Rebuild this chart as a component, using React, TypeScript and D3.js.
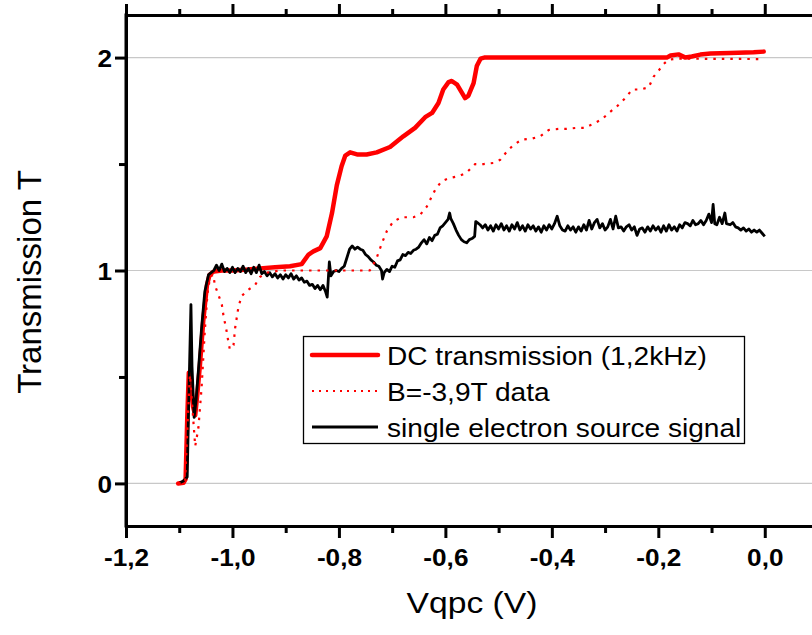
import { useEffect, useRef } from 'react'
import * as d3 from 'd3'

type Pt = [number, number]

// Vqpc (V), transmission T
const dcTransmission: Pt[] = [
  [-1.102, 0], [-1.092, 0.003], [-1.088, 0.02], [-1.085, 0.3], [-1.082, 0.52], [-1.078, 0.47],
  [-1.074, 0.36], [-1.07, 0.32], [-1.066, 0.42], [-1.061, 0.56], [-1.055, 0.76], [-1.048, 0.93],
  [-1.043, 0.98], [-1.035, 0.995], [-1.02, 1.0], [-1.0, 1.0], [-0.97, 1.005], [-0.948, 1.01],
  [-0.92, 1.015], [-0.892, 1.02], [-0.87, 1.03], [-0.857, 1.075], [-0.848, 1.09], [-0.835, 1.105],
  [-0.823, 1.16], [-0.813, 1.27], [-0.804, 1.4], [-0.795, 1.49], [-0.788, 1.54], [-0.779, 1.555],
  [-0.766, 1.545], [-0.748, 1.545], [-0.729, 1.555], [-0.704, 1.58], [-0.679, 1.63], [-0.657, 1.67],
  [-0.638, 1.72], [-0.625, 1.74], [-0.613, 1.787], [-0.604, 1.85], [-0.594, 1.885], [-0.588, 1.89],
  [-0.578, 1.873], [-0.563, 1.81], [-0.557, 1.82], [-0.547, 1.88], [-0.541, 1.96], [-0.534, 1.995],
  [-0.527, 2.0], [-0.184, 2.0], [-0.177, 2.01], [-0.162, 2.015], [-0.149, 2.0], [-0.137, 2.005],
  [-0.121, 2.014], [-0.102, 2.019], [-0.065, 2.022], [-0.021, 2.025], [-0.002, 2.028],
]

const bFieldData: Pt[] = [
  [-1.102, 0], [-1.089, 0.005], [-1.084, 0.3], [-1.08, 0.51], [-1.076, 0.38], [-1.07, 0.175],
  [-1.064, 0.26], [-1.058, 0.45], [-1.052, 0.715], [-1.047, 0.89], [-1.042, 0.97], [-1.036, 0.98],
  [-1.033, 0.93], [-1.027, 0.89], [-1.02, 0.84], [-1.017, 0.79], [-1.011, 0.715], [-1.008, 0.67],
  [-1.005, 0.63], [-0.998, 0.65], [-0.995, 0.73], [-0.989, 0.825], [-0.983, 0.88], [-0.97, 0.91],
  [-0.958, 0.93], [-0.948, 0.97], [-0.936, 0.99], [-0.91, 1.0], [-0.742, 1.0], [-0.738, 1.015],
  [-0.729, 1.06], [-0.719, 1.13], [-0.71, 1.185], [-0.698, 1.23], [-0.682, 1.25], [-0.66, 1.25],
  [-0.647, 1.263], [-0.635, 1.3], [-0.619, 1.38], [-0.607, 1.42], [-0.591, 1.435], [-0.575, 1.443],
  [-0.56, 1.46], [-0.544, 1.5], [-0.528, 1.5], [-0.51, 1.505], [-0.497, 1.52], [-0.484, 1.56],
  [-0.472, 1.59], [-0.456, 1.615], [-0.437, 1.62], [-0.422, 1.63], [-0.406, 1.66], [-0.387, 1.665],
  [-0.372, 1.665], [-0.353, 1.67], [-0.337, 1.67], [-0.322, 1.69], [-0.306, 1.71], [-0.293, 1.74],
  [-0.278, 1.77], [-0.262, 1.81], [-0.249, 1.85], [-0.234, 1.85], [-0.218, 1.86], [-0.209, 1.91],
  [-0.199, 1.94], [-0.19, 1.97], [-0.181, 1.99], [-0.165, 1.995], [-0.002, 1.993],
]

const sourceSignal: Pt[] = [
  [-1.099, 0.003], [-1.093, 0.01], [-1.089, 0.02], [-1.085, 0.03], [-1.082, 0.4], [-1.078, 0.84],
  [-1.076, 0.55], [-1.072, 0.31], [-1.068, 0.4], [-1.064, 0.53], [-1.058, 0.73], [-1.052, 0.9],
  [-1.045, 0.98], [-1.04, 0.99], [-1.035, 1.0], [-1.03, 1.025], [-1.025, 1.0], [-1.02, 1.03],
  [-1.015, 0.995], [-1.01, 1.01], [-1.005, 0.99], [-1.0, 1.015], [-0.995, 0.99], [-0.99, 1.01],
  [-0.985, 0.995], [-0.98, 1.02], [-0.975, 0.99], [-0.97, 1.01], [-0.965, 0.985], [-0.96, 1.015],
  [-0.955, 0.99], [-0.95, 1.025], [-0.945, 0.985], [-0.94, 0.995], [-0.935, 0.975], [-0.93, 0.99],
  [-0.925, 0.97], [-0.92, 0.985], [-0.915, 0.965], [-0.91, 0.98], [-0.905, 0.96], [-0.9, 0.98],
  [-0.895, 0.965], [-0.89, 0.985], [-0.885, 0.96], [-0.88, 0.975], [-0.875, 0.955], [-0.87, 0.965],
  [-0.865, 0.945], [-0.86, 0.95], [-0.855, 0.93], [-0.85, 0.935], [-0.845, 0.915], [-0.84, 0.93],
  [-0.835, 0.91], [-0.83, 0.93], [-0.825, 0.9], [-0.822, 0.875], [-0.818, 1.04], [-0.815, 0.975],
  [-0.81, 0.995], [-0.805, 1.0], [-0.8, 0.995], [-0.795, 1.01], [-0.79, 1.02], [-0.785, 1.06],
  [-0.78, 1.1], [-0.775, 1.115], [-0.77, 1.1], [-0.765, 1.11], [-0.76, 1.1], [-0.755, 1.095],
  [-0.75, 1.075], [-0.745, 1.065], [-0.74, 1.05], [-0.735, 1.04], [-0.73, 1.025], [-0.725, 1.02],
  [-0.72, 1.0], [-0.718, 0.96], [-0.715, 0.99], [-0.71, 1.005], [-0.705, 0.995], [-0.7, 1.02],
  [-0.695, 1.015], [-0.69, 1.045], [-0.685, 1.05], [-0.68, 1.075], [-0.675, 1.07], [-0.67, 1.085],
  [-0.665, 1.08], [-0.66, 1.095], [-0.655, 1.1], [-0.65, 1.11], [-0.645, 1.13], [-0.64, 1.145],
  [-0.635, 1.125], [-0.63, 1.155], [-0.625, 1.14], [-0.62, 1.165], [-0.615, 1.17], [-0.61, 1.2],
  [-0.605, 1.21], [-0.6, 1.225], [-0.595, 1.24], [-0.592, 1.27], [-0.59, 1.245], [-0.585, 1.22],
  [-0.58, 1.19], [-0.575, 1.165], [-0.57, 1.145], [-0.565, 1.135], [-0.56, 1.13], [-0.555, 1.145],
  [-0.55, 1.15], [-0.545, 1.16], [-0.543, 1.23], [-0.54, 1.225], [-0.535, 1.215], [-0.53, 1.2],
  [-0.525, 1.215], [-0.52, 1.19], [-0.515, 1.21], [-0.51, 1.185], [-0.505, 1.215], [-0.5, 1.195],
  [-0.495, 1.22], [-0.49, 1.19], [-0.485, 1.21], [-0.48, 1.185], [-0.475, 1.215], [-0.47, 1.195],
  [-0.465, 1.225], [-0.46, 1.19], [-0.455, 1.21], [-0.45, 1.185], [-0.445, 1.215], [-0.44, 1.195],
  [-0.435, 1.21], [-0.43, 1.185], [-0.425, 1.205], [-0.42, 1.18], [-0.415, 1.21], [-0.41, 1.19],
  [-0.405, 1.215], [-0.4, 1.195], [-0.395, 1.22], [-0.39, 1.255], [-0.385, 1.21], [-0.38, 1.19],
  [-0.375, 1.185], [-0.37, 1.21], [-0.365, 1.19], [-0.36, 1.205], [-0.355, 1.18], [-0.35, 1.205],
  [-0.345, 1.185], [-0.34, 1.215], [-0.335, 1.19], [-0.33, 1.235], [-0.325, 1.195], [-0.32, 1.225],
  [-0.315, 1.24], [-0.31, 1.2], [-0.305, 1.22], [-0.3, 1.19], [-0.295, 1.205], [-0.29, 1.24],
  [-0.285, 1.195], [-0.28, 1.255], [-0.275, 1.2], [-0.27, 1.205], [-0.265, 1.185], [-0.26, 1.205],
  [-0.255, 1.215], [-0.25, 1.19], [-0.245, 1.205], [-0.24, 1.165], [-0.235, 1.195], [-0.23, 1.2],
  [-0.225, 1.18], [-0.22, 1.205], [-0.215, 1.185], [-0.21, 1.21], [-0.205, 1.19], [-0.2, 1.205],
  [-0.195, 1.18], [-0.19, 1.21], [-0.185, 1.185], [-0.18, 1.215], [-0.175, 1.19], [-0.17, 1.205],
  [-0.165, 1.185], [-0.16, 1.215], [-0.155, 1.2], [-0.15, 1.225], [-0.145, 1.22], [-0.14, 1.21],
  [-0.135, 1.235], [-0.13, 1.215], [-0.125, 1.22], [-0.12, 1.235], [-0.115, 1.215], [-0.11, 1.235],
  [-0.105, 1.265], [-0.1, 1.225], [-0.097, 1.31], [-0.094, 1.22], [-0.09, 1.215], [-0.085, 1.25],
  [-0.08, 1.22], [-0.075, 1.27], [-0.072, 1.22], [-0.065, 1.215], [-0.06, 1.225], [-0.055, 1.205],
  [-0.05, 1.2], [-0.045, 1.19], [-0.04, 1.2], [-0.035, 1.185], [-0.03, 1.195], [-0.025, 1.18],
  [-0.02, 1.19], [-0.015, 1.18], [-0.01, 1.19], [-0.005, 1.175], [0.0, 1.16],
]

const xMajor = [-1.2, -1.0, -0.8, -0.6, -0.4, -0.2, 0.0]
const xMinor = [-1.1, -0.9, -0.7, -0.5, -0.3, -0.1]
const yMajor = [0, 1, 2]
const yMinor = [0.5, 1.5]

const legendLabels = ['DC transmission (1,2kHz)', 'B=-3,9T data', 'single electron source signal']

const FONT = '"Liberation Sans", Arial, Helvetica, sans-serif'
const W = 812
const H = 635

// the original export is slightly wider than tall, so text gets stretched sideways
function stretch(sel: d3.Selection<any, any, any, any>, k: number) {
  sel.each(function () {
    const t = this as SVGTextElement
    const w = t.getComputedTextLength()
    if (w > 0) {
      d3.select(t).attr('textLength', w * k).attr('lengthAdjust', 'spacingAndGlyphs')
    }
  })
}

export default function App() {
  const ref = useRef<SVGSVGElement>(null)

  useEffect(() => {
    const el = ref.current
    if (!el) return
    const svg = d3.select(el)
    svg.selectAll('*').remove()

    const x = d3.scaleLinear().domain([-1.2, 0.1]).range([126, 818])
    const y = d3.scaleLinear().domain([-0.2, 2.2]).range([526, 15])
    const fmtX = (d: d3.NumberValue) => d3.format('.1f')(+d).replace('.', ',').replace('−', '-')

    svg.append('rect').attr('width', W).attr('height', H).attr('fill', '#fff')

    // grid
    svg
      .append('g')
      .selectAll('line')
      .data(yMajor)
      .join('line')
      .attr('x1', 128)
      .attr('x2', W)
      .attr('y1', (d) => y(d))
      .attr('y2', (d) => y(d))
      .attr('stroke', '#c8c8c8')
      .attr('stroke-width', 1.2)

    const styleAxis = (s: d3.Selection<SVGGElement, unknown, null, undefined>) => {
      s.select('.domain').attr('stroke-width', 3).attr('stroke', '#000')
      s.selectAll('.tick line').attr('stroke-width', 3).attr('stroke', '#000')
      s.selectAll('.tick text')
        .attr('fill', '#000')
        .style('font-family', FONT)
        .style('font-size', '24px')
        .style('font-weight', 'bold')
    }

    // bottom axis
    svg
      .append('g')
      .attr('transform', `translate(0,${y(-0.2)})`)
      .call(d3.axisBottom(x).tickValues(xMinor).tickSize(7).tickSizeOuter(0).tickFormat(() => ''))
      .call(styleAxis)
    svg
      .append('g')
      .attr('transform', `translate(0,${y(-0.2)})`)
      .call(d3.axisBottom(x).tickValues(xMajor).tickSize(12).tickSizeOuter(0).tickFormat(fmtX))
      .call(styleAxis)
      .call((s) => s.selectAll('.tick text').attr('y', 40).attr('dy', 0))
      .call((s) => stretch(s.selectAll('.tick text'), 1.09))

    // top axis
    svg
      .append('g')
      .attr('transform', `translate(0,${y(2.2)})`)
      .call(d3.axisTop(x).tickValues(xMinor).tickSize(6).tickSizeOuter(0).tickFormat(() => ''))
      .call(styleAxis)
    svg
      .append('g')
      .attr('transform', `translate(0,${y(2.2)})`)
      .call(d3.axisTop(x).tickValues(xMajor).tickSize(11).tickSizeOuter(0).tickFormat(() => ''))
      .call(styleAxis)

    // left axis
    svg
      .append('g')
      .attr('transform', `translate(${x(-1.2)},0)`)
      .call(d3.axisLeft(y).tickValues(yMinor).tickSize(7).tickSizeOuter(0).tickFormat(() => ''))
      .call(styleAxis)
    svg
      .append('g')
      .attr('transform', `translate(${x(-1.2)},0)`)
      .call(d3.axisLeft(y).tickValues(yMajor).tickSize(11).tickSizeOuter(0).tickFormat(d3.format('d')))
      .call(styleAxis)
      .call((s) => s.selectAll('.tick text').attr('x', -14).attr('dy', '0.36em'))
      .call((s) => stretch(s.selectAll('.tick text'), 1.09))

    // extend left axis line over the corners
    svg
      .append('line')
      .attr('x1', x(-1.2))
      .attr('x2', x(-1.2))
      .attr('y1', y(2.2) - 1.5)
      .attr('y2', y(-0.2) + 1.5)
      .attr('stroke', '#000')
      .attr('stroke-width', 3)

    const line = d3
      .line<Pt>()
      .x((d) => x(d[0]))
      .y((d) => y(d[1]))

    const plot = svg.append('g')
    plot
      .append('path')
      .attr('d', line(dcTransmission))
      .attr('fill', 'none')
      .attr('stroke', '#ff0000')
      .attr('stroke-width', 4.5)
      .attr('stroke-linejoin', 'round')
      .attr('stroke-linecap', 'round')
    plot
      .append('path')
      .attr('d', line(sourceSignal))
      .attr('fill', 'none')
      .attr('stroke', '#000')
      .attr('stroke-width', 2.8)
      .attr('stroke-linejoin', 'round')
    plot
      .append('path')
      .attr('d', line(bFieldData))
      .attr('fill', 'none')
      .attr('stroke', '#ff0000')
      .attr('stroke-width', 2.2)
      .attr('stroke-dasharray', '2.5 6')

    // legend
    const lg = svg.append('g').attr('transform', 'translate(303,336)')
    lg.append('rect')
      .attr('x', 0.5)
      .attr('y', 0.5)
      .attr('width', 441)
      .attr('height', 107)
      .attr('fill', '#fff')
      .attr('stroke', '#000')
      .attr('stroke-width', 1.3)
    const styles = [
      { stroke: '#ff0000', width: 4.5, dash: null },
      { stroke: '#ff0000', width: 2, dash: '2 5' },
      { stroke: '#000', width: 2.8, dash: null },
    ]
    legendLabels.forEach((label, i) => {
      const cy = 19 + i * 36
      const st = styles[i]
      lg.append('line')
        .attr('x1', 9)
        .attr('x2', 75)
        .attr('y1', cy)
        .attr('y2', cy)
        .attr('stroke', st.stroke)
        .attr('stroke-width', st.width)
        .attr('stroke-linecap', i === 0 ? 'round' : 'butt')
        .attr('stroke-dasharray', st.dash)
      const t = lg
        .append('text')
        .attr('x', 84)
        .attr('y', cy + 9.7)
        .style('font-family', FONT)
        .style('font-size', '26px')
        .attr('fill', '#000')
        .text(label)
      stretch(t, 1.08)
    })

    // axis titles
    const xt = svg
      .append('text')
      .attr('x', 472)
      .attr('y', 613)
      .attr('text-anchor', 'middle')
      .style('font-family', FONT)
      .style('font-size', '29px')
      .attr('fill', '#000')
      .text('Vqpc (V)')
    stretch(xt, 1.16)
    svg
      .append('text')
      .attr('transform', 'translate(41,282) rotate(-90)')
      .attr('text-anchor', 'middle')
      .style('font-family', FONT)
      .style('font-size', '33px')
      .attr('fill', '#000')
      .text('Transmission T')
  }, [])

  return (
    <svg
      ref={ref}
      width={W}
      height={H}
      viewBox={`0 0 ${W} ${H}`}
      style={{ position: 'absolute', left: 0, top: 0 }}
    />
  )
}
